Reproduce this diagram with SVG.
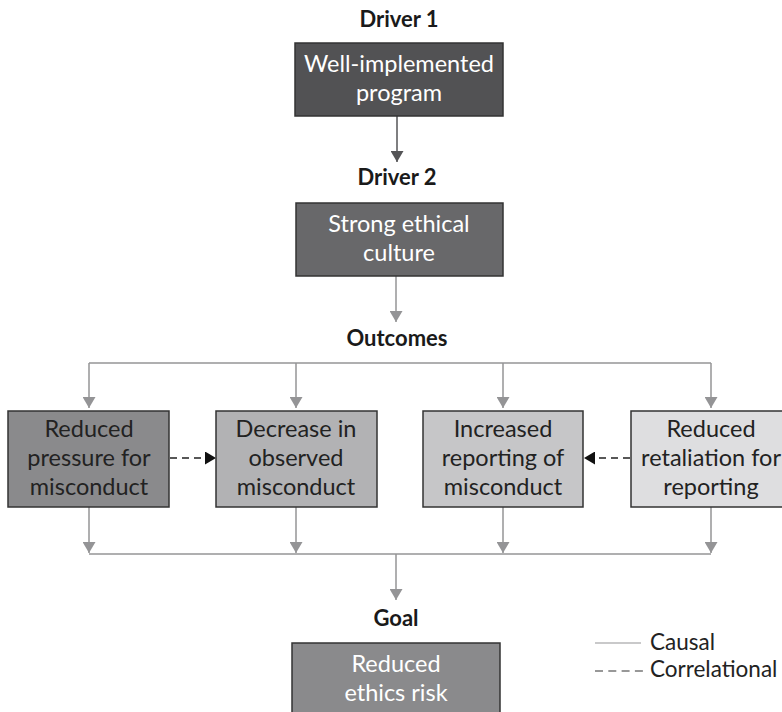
<svg xmlns="http://www.w3.org/2000/svg" width="782" height="712" viewBox="0 0 782 712">
<style>
text{font-family:"Lato","Open Sans","DejaVu Sans",sans-serif;}
.h{font-size:22px;font-weight:bold;fill:#1a1a1a;text-anchor:middle;}
.t{font-size:23.5px;text-anchor:middle;}
.w{fill:#ffffff;}
.d{fill:#222222;}
.box{stroke:#333333;stroke-width:1.5;}
.c{stroke:#949496;stroke-width:1.5;fill:none;}
.c0{stroke:#555557;stroke-width:1.5;fill:none;}
.dash{stroke:#222222;stroke-width:1.5;stroke-dasharray:7,5;fill:none;}
.leg{font-size:22.5px;fill:#222222;}
</style>
<defs>
<marker id="ag" viewBox="0 0 11 13" markerWidth="11" markerHeight="13" refX="11" refY="6.5" orient="auto" markerUnits="userSpaceOnUse"><path d="M0,0 L11,6.5 L0,13 z" fill="#949496"/></marker>
<marker id="ad" viewBox="0 0 11 13" markerWidth="11" markerHeight="13" refX="11" refY="6.5" orient="auto" markerUnits="userSpaceOnUse"><path d="M0,0 L11,6.5 L0,13 z" fill="#555557"/></marker>
<marker id="ab" viewBox="0 0 11 13" markerWidth="11" markerHeight="13" refX="11" refY="6.5" orient="auto" markerUnits="userSpaceOnUse"><path d="M0,0 L11,6.5 L0,13 z" fill="#111111"/></marker>
</defs>
<rect width="782" height="712" fill="#ffffff"/>

<g id="connectors">
<line class="c0" x1="397" y1="116" x2="397" y2="162" marker-end="url(#ad)"/>
<line class="c" x1="396" y1="276" x2="396" y2="322" marker-end="url(#ag)"/>
<line class="c" x1="89" y1="363" x2="711" y2="363"/>
<line class="c" x1="89" y1="363" x2="89" y2="408" marker-end="url(#ag)"/>
<line class="c" x1="296" y1="363" x2="296" y2="408" marker-end="url(#ag)"/>
<line class="c" x1="503" y1="363" x2="503" y2="408" marker-end="url(#ag)"/>
<line class="c" x1="711" y1="363" x2="711" y2="408" marker-end="url(#ag)"/>
<line class="c" x1="89" y1="507" x2="89" y2="553" marker-end="url(#ag)"/>
<line class="c" x1="296" y1="507" x2="296" y2="553" marker-end="url(#ag)"/>
<line class="c" x1="503" y1="507" x2="503" y2="553" marker-end="url(#ag)"/>
<line class="c" x1="711" y1="507" x2="711" y2="553" marker-end="url(#ag)"/>
<line class="c" x1="89" y1="554" x2="711" y2="554"/>
<line class="c" x1="396" y1="554" x2="396" y2="600" marker-end="url(#ag)"/>
<line class="dash" x1="170" y1="458" x2="216" y2="458" marker-end="url(#ab)"/>
<line class="dash" x1="630" y1="458" x2="584" y2="458" marker-end="url(#ab)"/>
</g>

<g id="driver1">
<text class="h" x="399" y="27">Driver 1</text>
<rect class="box" x="295" y="43" width="208" height="73" fill="#525254"/>
<text class="t w" x="399" y="72">Well-implemented</text>
<text class="t w" x="399" y="101">program</text>
</g>

<g id="driver2">
<text class="h" x="397" y="185">Driver 2</text>
<rect class="box" x="296" y="203" width="207" height="73" fill="#68686a"/>
<text class="t w" x="399" y="232">Strong ethical</text>
<text class="t w" x="399" y="261">culture</text>
</g>

<g id="outcomes-label">
<text class="h" x="397" y="346">Outcomes</text>
</g>

<g id="o1">
<rect class="box" x="8" y="411" width="161" height="96" fill="#8a8a8c"/>
<text class="t d" x="89" y="437">Reduced</text>
<text class="t d" x="89" y="466">pressure for</text>
<text class="t d" x="89" y="495">misconduct</text>
</g>

<g id="o2">
<rect class="box" x="216" y="411" width="161" height="96" fill="#b2b2b4"/>
<text class="t d" x="296" y="437">Decrease in</text>
<text class="t d" x="296" y="466">observed</text>
<text class="t d" x="296" y="495">misconduct</text>
</g>

<g id="o3">
<rect class="box" x="423" y="411" width="160" height="96" fill="#c6c6c8"/>
<text class="t d" x="503" y="437">Increased</text>
<text class="t d" x="503" y="466">reporting of</text>
<text class="t d" x="503" y="495">misconduct</text>
</g>

<g id="o4">
<rect class="box" x="631" y="411" width="161" height="96" fill="#dedee0"/>
<text class="t d" x="711" y="437">Reduced</text>
<text class="t d" x="711" y="466">retaliation for</text>
<text class="t d" x="711" y="495">reporting</text>
</g>

<g id="goal">
<text class="h" x="396" y="626">Goal</text>
<rect class="box" x="292" y="643" width="208" height="80" fill="#8a8a8c"/>
<text class="t w" x="396" y="672">Reduced</text>
<text class="t w" x="396" y="701">ethics risk</text>
</g>

<g id="legend">
<line x1="595" y1="643" x2="641" y2="643" stroke="#949496" stroke-width="1.2"/>
<text class="leg" x="650" y="650">Causal</text>
<line x1="595" y1="671" x2="643" y2="671" stroke="#333333" stroke-width="1.2" stroke-dasharray="8,5.3"/>
<text class="leg" x="650" y="677">Correlational</text>
</g>
</svg>
